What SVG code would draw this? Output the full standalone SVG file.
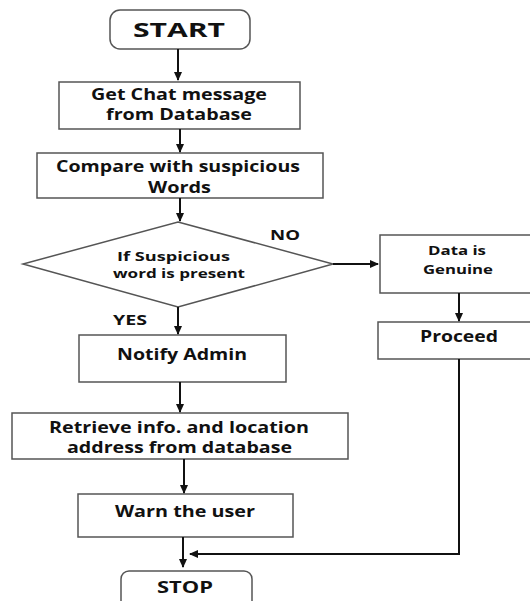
<svg xmlns="http://www.w3.org/2000/svg" width="530" height="601" viewBox="0 0 530 601">
<defs>
<marker id="ah" markerUnits="userSpaceOnUse" markerWidth="9" markerHeight="8" refX="8" refY="4" orient="auto">
<path d="M0,0 L9,4 L0,8 Z" fill="#111"/>
</marker>
<style>
.box{fill:#fff;stroke:#555;stroke-width:1.5}
.t{font-family:"Open Sans","Liberation Sans",sans-serif;font-weight:700;fill:#111}
.c{stroke:#111;stroke-width:2;fill:none}
</style>
</defs>
<rect width="530" height="601" fill="#fff"/>
<g id="start">
<rect class="box" x="110" y="10" width="140" height="39" rx="10"/>
<text class="t" x="133" y="37" font-size="20" textLength="92" lengthAdjust="spacingAndGlyphs">START</text>
</g>
<g id="get-chat">
<rect class="box" x="59" y="82" width="241" height="47"/>
<text class="t" x="91" y="100" font-size="15.5" textLength="176" lengthAdjust="spacingAndGlyphs">Get Chat message</text>
<text class="t" x="106" y="120" font-size="15.5" textLength="146" lengthAdjust="spacingAndGlyphs">from Database</text>
</g>
<g id="compare">
<rect class="box" x="37" y="153" width="286" height="45"/>
<text class="t" x="56" y="172" font-size="15.5" textLength="244" lengthAdjust="spacingAndGlyphs">Compare with suspicious</text>
<text class="t" x="148" y="193" font-size="15.5" textLength="63" lengthAdjust="spacingAndGlyphs">Words</text>
</g>
<g id="decision">
<polygon class="box" points="178,222 333,264 178,307 23,264"/>
<text class="t" x="117" y="261" font-size="12.5" textLength="113" lengthAdjust="spacingAndGlyphs">If Suspicious</text>
<text class="t" x="113" y="278" font-size="12.5" textLength="132" lengthAdjust="spacingAndGlyphs">word is present</text>
</g>
<g id="genuine">
<rect class="box" x="380" y="235" width="160" height="58"/>
<text class="t" x="428" y="255" font-size="13" textLength="58" lengthAdjust="spacingAndGlyphs">Data is</text>
<text class="t" x="423" y="274" font-size="13" textLength="70" lengthAdjust="spacingAndGlyphs">Genuine</text>
</g>
<g id="proceed">
<rect class="box" x="378" y="322" width="162" height="37"/>
<text class="t" x="420" y="342" font-size="15.5" textLength="78" lengthAdjust="spacingAndGlyphs">Proceed</text>
</g>
<g id="notify">
<rect class="box" x="79" y="335" width="207" height="47"/>
<text class="t" x="117" y="360" font-size="15.5" textLength="130" lengthAdjust="spacingAndGlyphs">Notify Admin</text>
</g>
<g id="retrieve">
<rect class="box" x="12" y="413" width="336" height="46"/>
<text class="t" x="49" y="433" font-size="15.5" textLength="260" lengthAdjust="spacingAndGlyphs">Retrieve info. and location</text>
<text class="t" x="67" y="453" font-size="15.5" textLength="225" lengthAdjust="spacingAndGlyphs">address from database</text>
</g>
<g id="warn">
<rect class="box" x="78" y="494" width="215" height="43"/>
<text class="t" x="115" y="517" font-size="15.5" textLength="140" lengthAdjust="spacingAndGlyphs">Warn the user</text>
</g>
<g id="stop">
<rect class="box" x="121" y="571" width="131" height="45" rx="8"/>
<text class="t" x="157" y="593" font-size="15.5" textLength="56" lengthAdjust="spacingAndGlyphs">STOP</text>
</g>
<g id="labels">
<text class="t" x="270" y="240" font-size="14" textLength="30" lengthAdjust="spacingAndGlyphs">NO</text>
<text class="t" x="113" y="325" font-size="14" textLength="34" lengthAdjust="spacingAndGlyphs">YES</text>
</g>
<g id="connectors">
<line class="c" x1="178" y1="49" x2="178" y2="80" marker-end="url(#ah)"/>
<line class="c" x1="180" y1="129" x2="180" y2="152" marker-end="url(#ah)"/>
<line class="c" x1="180" y1="198" x2="180" y2="221" marker-end="url(#ah)"/>
<line class="c" x1="333" y1="264" x2="378" y2="264" marker-end="url(#ah)"/>
<line class="c" x1="459" y1="293" x2="459" y2="321" marker-end="url(#ah)"/>
<line class="c" x1="178" y1="307" x2="178" y2="334" marker-end="url(#ah)"/>
<line class="c" x1="180" y1="382" x2="180" y2="412" marker-end="url(#ah)"/>
<line class="c" x1="184" y1="459" x2="184" y2="493" marker-end="url(#ah)"/>
<line class="c" x1="183" y1="537" x2="183" y2="567" marker-end="url(#ah)"/>
<polyline class="c" points="459,359 459,554 190,554" marker-end="url(#ah)"/>
</g>
</svg>
